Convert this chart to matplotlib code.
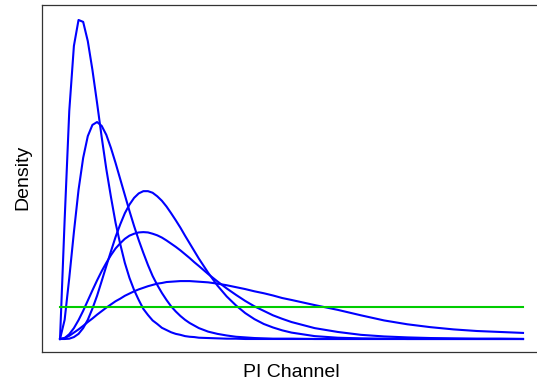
import numpy as np
import matplotlib
matplotlib.use("Agg")
import matplotlib.pyplot as plt

plt.rcParams['font.family'] = ['Liberation Sans', 'DejaVu Sans']

# channel grid (shared by all curves)
channel = list(range(0, 31)) + list(range(32, 51, 2)) + list(range(55, 101, 5))

# densities, one list per curve
dens_a = [0, .0372, .0713, .0916, .0997, .0991, .0931, .0841, .0738, .0631, .0531,
          .0444, .0363, .0297, .0238, .0191, .0153, .0122, .0094, .0075, .0058,
          .0047, .0035, .0028, .0021, .0016, .0013, .0009, .0007, .0006, .0004,
          .0003, .0002, .0001, .0001, 0, 0, 0, 0, 0, 0,
          0, 0, 0, 0, 0, 0, 0, 0, 0, 0]
dens_b = [0, .0060, .0191, .0334, .0466, .0566, .0634, .0669, .0678, .0666, .0638,
          .0597, .0550, .0500, .0450, .0400, .0353, .0309, .0269, .0231, .0197,
          .0169, .0144, .0122, .0102, .0086, .0072, .0060, .0050, .0042, .0034,
          .0023, .0016, .0011, .0007, .0005, .0003, .0002, .0001, .0001, .0001,
          0, 0, 0, 0, 0, 0, 0, 0, 0, 0]
dens_c = [0, 0, .0001, .0006, .0016, .0034, .0060, .0095, .0135, .0181, .0228,
          .0274, .0319, .0358, .0393, .0420, .0441, .0455, .0462, .0462, .0457,
          .0446, .0432, .0414, .0393, .0371, .0348, .0323, .0299, .0275, .0251,
          .0207, .0167, .0133, .0105, .0081, .0062, .0047, .0036, .0027, .0020,
          .0009, .0004, .0002, .0001, 0, 0, 0, 0, 0, 0]
dens_d = [0, .0003, .0015, .0034, .0059, .0088, .0120, .0152, .0183, .0212, .0238,
          .0262, .0283, .0299, .0313, .0323, .0329, .0333, .0334, .0333, .0329,
          .0324, .0317, .0308, .0298, .0288, .0277, .0265, .0253, .0240, .0228,
          .0203, .0180, .0158, .0138, .0119, .0102, .0088, .0074, .0063, .0053,
          .0034, .0022, .0013, .0008, .0005, .0003, .0002, .0001, .0001, 0]
dens_e = [0, .0003, .0010, .0020, .0030, .0041, .0053, .0064, .0076, .0087, .0098,
          .0108, .0118, .0126, .0135, .0142, .0149, .0155, .0160, .0165, .0169,
          .0173, .0175, .0178, .0179, .0180, .0181, .0181, .0181, .0180, .0179,
          .0177, .0173, .0168, .0162, .0156, .0149, .0143, .0136, .0128, .0122,
          .0106, .0091, .0074, .0058, .0046, .0037, .0030, .0025, .0022, .0019]
uniform_level = 0.0101
uniform_span = [0, 100]

fig = plt.figure(figsize=(5.37, 3.81), dpi=100)
ax = fig.add_axes([0.0777, 0.0769, 0.9372, 0.910])

for d in [dens_a, dens_b, dens_c, dens_d, dens_e]:
    ax.plot(channel, d, color="#0000ff", lw=1.5)
ax.plot(uniform_span, [uniform_level, uniform_level], color="#00cc00", lw=1.5)

ax.set_xlim(-3.95, 104.75)
ax.set_ylim(-0.00397, 0.10438)
ax.set_xticks([])
ax.set_yticks([])
for s in ax.spines.values():
    s.set_color("#333333")
    s.set_linewidth(0.9)

fig.text(291 / 537, 1 - 377 / 381, "PI Channel", ha="center", va="baseline", fontsize=14)
fig.text(23 / 537, 1 - 177 / 381, "Density", ha="center", va="center", rotation=90, fontsize=14)

fig.savefig("out.png", dpi=100)
